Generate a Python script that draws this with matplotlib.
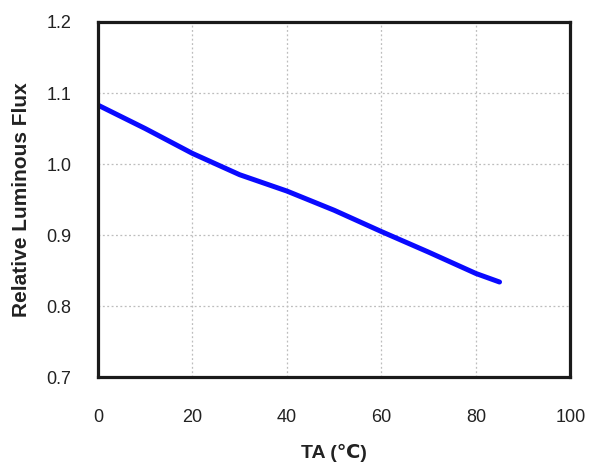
import numpy as np
import matplotlib
matplotlib.use("Agg")
import matplotlib.pyplot as plt

# Relative luminous flux against ambient temperature
ta = [0, 10, 20, 30, 40, 50, 60, 70, 80, 85]
flux = [1.083, 1.050, 1.015, 0.985, 0.962, 0.935, 0.905, 0.876, 0.846, 0.834]

x_ticks = [0, 20, 40, 60, 80, 100]
y_ticks = [0.7, 0.8, 0.9, 1.0, 1.1, 1.2]
y_tick_labels = ["0.7", "0.8", "0.9", "1.0", "1.1", "1.2"]

plt.rcParams['font.family'] = ['Liberation Sans', 'DejaVu Sans', 'Noto Sans CJK SC']

fig = plt.figure(figsize=(5.92, 4.68), dpi=100)
ax = fig.add_axes([0.1655, 0.194, 0.798, 0.759])

ax.plot(ta, flux, color='#0a0aff', linewidth=3.6, solid_capstyle='round')

ax.set_xlim(0, 100)
ax.set_ylim(0.7, 1.2)
ax.set_xticks(x_ticks)
ax.set_yticks(y_ticks)
ax.set_yticklabels(y_tick_labels)
ax.tick_params(axis='both', length=0, labelsize=13, labelcolor='#222222')
ax.tick_params(axis='x', pad=23)
ax.tick_params(axis='y', pad=19)

ax.grid(True, linestyle=(0, (1.5, 2)), color='#bdbdbd', linewidth=0.9)

for s in ax.spines.values():
    s.set_linewidth(2.3)
    s.set_color('#1a1a1a')

ax.set_xlabel('TA (\u2103)', fontsize=14, fontweight='bold', color='#222222', labelpad=13)
ax.set_ylabel('Relative Luminous Flux', fontsize=15, fontweight='bold', color='#222222', labelpad=11)

fig.savefig('out.png', dpi=100)
